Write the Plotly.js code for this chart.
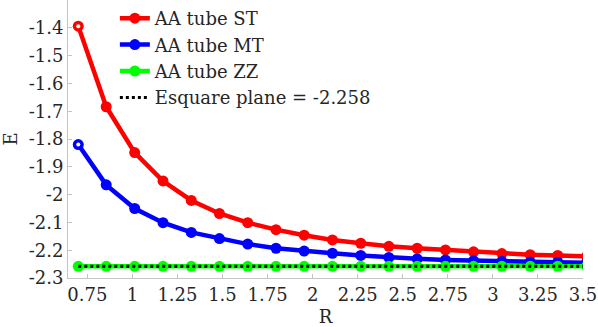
<!DOCTYPE html>
<html>
<head>
<meta charset="utf-8">
<script src="https://cdn.plot.ly/plotly-3.0.1.min.js"></script>
<style>html,body{margin:0;padding:0;background:#fff;}#chart{width:598px;height:327px;}</style>
</head>
<body>
<div id="chart"></div>
<script>
// Data
var R = [0.70, 0.855, 1.013, 1.17, 1.327, 1.483, 1.64, 1.797, 1.953, 2.11, 2.267, 2.423, 2.58, 2.737, 2.893, 3.05, 3.207, 3.360, 3.52];
var E_ST = [-1.394, -1.684, -1.849, -1.951, -2.021, -2.068, -2.101, -2.126, -2.146, -2.163, -2.175, -2.186, -2.193, -2.199, -2.206, -2.212, -2.216, -2.219, -2.222];
var E_MT = [-1.820, -1.965, -2.050, -2.101, -2.136, -2.158, -2.178, -2.193, -2.203, -2.211, -2.219, -2.226, -2.231, -2.235, -2.238, -2.240, -2.242, -2.243, -2.245];
var E_ZZ = [-2.258, -2.258, -2.258, -2.258, -2.258, -2.258, -2.258, -2.258, -2.258, -2.258, -2.258, -2.258, -2.258, -2.258, -2.258, -2.258, -2.258, -2.258, -2.258];
var E_SQUARE = -2.258;
var seriesNames = ["AA tube ST", "AA tube MT", "AA tube ZZ", "Esquare plane = -2.258"];
var xTickVals = [0.75, 1, 1.25, 1.5, 1.75, 2, 2.25, 2.5, 2.75, 3, 3.25, 3.5];
var xTickText = ["0.75", "1", "1.25", "1.5", "1.75", "2", "2.25", "2.5", "2.75", "3", "3.25", "3.5"];
var yTickVals = [-2.3, -2.2, -2.1, -2.0, -1.9, -1.8, -1.7, -1.6, -1.5, -1.4];
var yTickText = ["-2.3", "-2.2", "-2.1", "-2", "-1.9", "-1.8", "-1.7", "-1.6", "-1.5", "-1.4"];

var font = "DejaVu Serif, Liberation Serif, serif";
var txt = "#262626";
var axisCol = "#c4c4c4";
var fs = 18;

var traces = [
  {x: R, y: E_ST, name: seriesNames[0], mode: "lines+markers",
   line: {color: "#ff0000", width: 4.5}, marker: {color: "#ff0000", size: 11}},
  {x: R, y: E_MT, name: seriesNames[1], mode: "lines+markers",
   line: {color: "#0000ff", width: 4.5}, marker: {color: "#0000ff", size: 11}},
  {x: R, y: E_ZZ, name: seriesNames[2], mode: "lines+markers",
   line: {color: "#00ff00", width: 4.5}, marker: {color: "#00ff00", size: 11}},
  {x: R, y: R.map(function(){return E_SQUARE;}), name: seriesNames[3], mode: "lines",
   line: {color: "#000000", width: 3, dash: "dot"}},
  {x: R.slice(0, 1), y: E_ST.slice(0, 1), mode: "markers", showlegend: false, hoverinfo: "skip",
   marker: {color: "#ffffff", size: 4}},
  {x: R.slice(0, 1), y: E_MT.slice(0, 1), mode: "markers", showlegend: false, hoverinfo: "skip",
   marker: {color: "#ffffff", size: 4}}
];

var layout = {
  width: 598, height: 327,
  margin: {l: 68, r: 15, t: 0, b: 49, pad: 0},
  paper_bgcolor: "#ffffff", plot_bgcolor: "#ffffff",
  font: {family: font, size: fs, color: txt},
  showlegend: true,
  legend: {x: 0.091, y: 1.0, xanchor: "left", yanchor: "top",
           bgcolor: "rgba(255,255,255,0)", borderwidth: 0,
           font: {family: font, size: fs, color: txt}, tracegroupgap: 0},
  xaxis: {range: [0.643, 3.5], showgrid: false, zeroline: false,
          showline: true, linecolor: axisCol, linewidth: 1,
          ticks: "inside", ticklen: 4, tickcolor: axisCol,
          tickmode: "array", tickvals: xTickVals, ticktext: xTickText,
          tickfont: {family: font, size: fs, color: txt},
          title: {text: "R", font: {family: font, size: fs, color: txt}, standoff: 6}},
  yaxis: {range: [-2.3, -1.3], showgrid: false, zeroline: false,
          showline: true, linecolor: axisCol, linewidth: 1,
          ticks: "inside", ticklen: 4, tickcolor: axisCol,
          tickmode: "array", tickvals: yTickVals, ticktext: yTickText,
          tickfont: {family: font, size: fs, color: txt},
          title: {text: "E", font: {family: font, size: fs, color: txt}, standoff: 6}}
};

Plotly.newPlot("chart", traces, layout, {displayModeBar: false, staticPlot: true});
</script>
</body>
</html>
